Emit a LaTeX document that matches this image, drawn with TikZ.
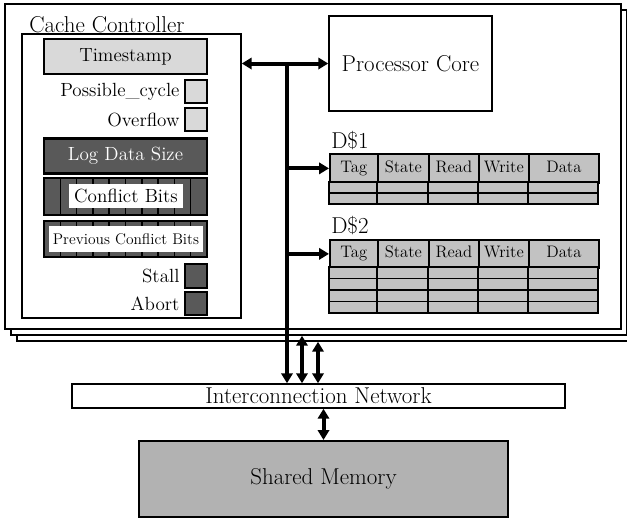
\documentclass[tikz,border=0pt]{standalone}
\usetikzlibrary{arrows.meta,positioning}
\definecolor{lightgrey}{gray}{0.85}
\definecolor{darkgrey}{gray}{0.35}
\definecolor{cellgrey}{gray}{0.76}
\definecolor{memgrey}{gray}{0.70}
\newcommand{\txtbig}{\fontsize{17.2}{20}\selectfont}
\newcommand{\txtmid}{\fontsize{14.3}{16}\selectfont}
\newcommand{\txttab}{\fontsize{12.5}{14}\selectfont}
\newcommand{\txtsmall}{\fontsize{11.6}{13}\selectfont}
\tikzset{
	sz/.style 2 args={minimum width=#1*0.75pt, minimum height=#2*0.75pt},
	sheet/.style={draw, line width=1.1pt, fill=white, inner sep=0pt, sz={616}{325}},
	thinbox/.style={draw, line width=1.1pt, fill=white, inner sep=0pt},
	reg/.style={draw, line width=1.9pt, inner sep=0pt, font=\txtmid},
	cell/.style={draw, line width=1.3pt, fill=cellgrey, inner sep=0pt, anchor=north west, font=\txttab, text height=8.5pt, text depth=2.5pt},
	row/.style={draw, line width=1.3pt, fill=cellgrey},
	bus/.style={line width=3pt},
	side/.style={inner sep=2pt, font=\txtmid},
}
\begin{document}
\begin{tikzpicture}[x=0.75pt,y=-0.75pt,>={Triangle[length=7.5pt,width=8.5pt]}]
	\useasboundingbox (0,0) rectangle (627,519);
	\node[sheet] (s3) at (325,178.5) {};
	\node[sheet] (s2) at (319,172.5) {};
	\node[sheet] (s1) at (313,166.5) {};

	\node[thinbox, sz={219}{284}] (cc) at (131.5,176) {};
	\node[anchor=base west, inner sep=0pt, font=\txtbig] (cclab) at (29,32) {Cache Controller};

	\node[reg, fill=lightgrey, sz={163}{35}] (ts) at (125.5,56.5) {Timestamp};
	\node[reg, fill=lightgrey, sz={22}{23}] (pc) at (196,91.5) {};
	\node[reg, fill=lightgrey, sz={22}{23}] (of) at (196,119.5) {};
	\node[side, left=1pt of pc] (pclab) {Possible\_cycle};
	\node[side, left=1pt of of] (oflab) {Overflow};

	\node[reg, fill=darkgrey, text=white, sz={163}{35}] (lds) at (125.5,156) {Log Data Size};

	\node[reg, fill=darkgrey, sz={163}{37}] (cb) at (125.5,196.5) {};
	\foreach \i in {1,...,9} \draw[line width=1.1pt] (44+16.3*\i,178) -- (44+16.3*\i,215);
	\node[fill=white, inner sep=0pt, sz={114}{24}, font=\txtmid] (cbt) at (126,196) {Conflict Bits};

	\node[reg, fill=darkgrey, sz={163}{36}] (pcb) at (125.5,239) {};
	\foreach \i in {1,...,9} \draw[line width=1.1pt] (44+16.3*\i,221) -- (44+16.3*\i,257);
	\node[fill=white, inner sep=0pt, sz={154}{26}, font=\txtsmall] (pcbt) at (126,239) {Previous Conflict Bits};

	\node[reg, fill=darkgrey, sz={22}{24}] (st) at (196,276) {};
	\node[reg, fill=darkgrey, sz={22}{23}] (ab) at (196,303.5) {};
	\node[side, left=1pt of st] (stlab) {Stall};
	\node[side, left=1pt of ab] (ablab) {Abort};

	\node[thinbox, sz={163}{95}, font=\txtbig] (core) at (410.5,63.5) {Processor Core};

	\node[anchor=base west, inner sep=0pt, font=\txtbig] (d1lab) at (331,148) {D\$1};
	\foreach \x/\w/\lab [count=\i] in {329/48/Tag,377/51/State,428/50/Read,478/50/Write,528/70/Data}{
		\node[cell, sz={\w}{29}] (da\i) at (\x,153) {\lab};
		\foreach \y in {182,193} \draw[row] (\x,\y) rectangle ++(\w,11);
	}

	\node[anchor=base west, inner sep=0pt, font=\txtbig] (d2lab) at (331,233) {D\$2};
	\foreach \x/\w/\lab [count=\i] in {329/48/Tag,377/51/State,428/50/Read,478/50/Write,528/70/Data}{
		\node[cell, sz={\w}{28}] (db\i) at (\x,239) {\lab};
		\foreach \y in {267,278.5,290,301.5} \draw[row] (\x,\y) rectangle ++(\w,11.5);
	}

	\node[thinbox, sz={493}{24}, font=\txtbig] (net) at (318.5,396) {Interconnection Network};
	\node[reg, fill=memgrey, line width=1.5pt, sz={369}{76}, font=\txtbig] (mem) at (323.5,479) {Shared Memory};

	\coordinate (xb) at (287,0);
	\coordinate (xr) at (302,0);
	\coordinate (xs) at (318,0);
	\coordinate (bt) at (core.west -| xb);
	\draw[bus,<->] (cc.east |- core.west) -- (core.west);
	\draw[bus,->] (bt) -- (bt |- net.north);
	\draw[bus,->] (bt |- da1.west) -- (da1.west);
	\draw[bus,->] (bt |- db1.west) -- (db1.west);
	\draw[bus,<->] (xr |- s2.south) -- (xr |- net.north);
	\draw[bus,<->] (xs |- s3.south) -- (xs |- net.north);
	\draw[bus,<->] (net.south -| mem.north) -- (mem.north);
\end{tikzpicture}
\end{document}
